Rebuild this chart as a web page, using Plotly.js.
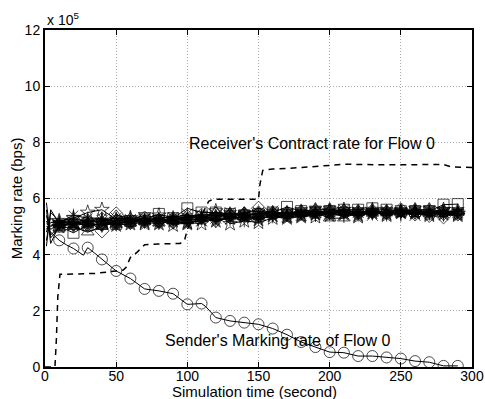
<!DOCTYPE html>
<html>
<head>
<meta charset="utf-8">
<script src="https://cdn.plot.ly/plotly-3.0.1.min.js"></script>
<style>html,body{margin:0;padding:0;background:#fff;}#chart{width:485px;height:399px;}</style>
</head>
<body>
<div id="chart"></div>
<script>
// Values in units of 1e5 bps
const tBundle = [1, 4, 10, 20, 30, 40, 50, 60, 70, 80, 90, 100, 110, 120, 130, 140, 150, 160, 170, 180, 190, 200, 210, 220, 230, 240, 250, 260, 270, 280, 290];
const flowSquare   = [4.8, 5.3, 5.0, 4.78, 5.05, 5.1, 5.1, 5.2, 5.25, 5.45, 5.3, 5.65, 5.5, 5.5, 5.45, 5.4, 5.45, 5.5, 5.7, 5.55, 5.5, 5.55, 5.6, 5.6, 5.65, 5.6, 5.55, 5.55, 5.55, 5.78, 5.8];
const flowTriUp    = [5.85, 4.6, 4.95, 5.0, 4.8, 5.0, 5.4, 5.3, 5.2, 5.3, 5.35, 5.2, 5.3, 5.5, 5.45, 5.5, 5.55, 5.45, 5.4, 5.45, 5.5, 5.3, 5.3, 5.5, 5.55, 5.5, 5.5, 5.55, 5.5, 5.55, 5.5];
const flowTriDown  = [4.3, 5.6, 5.1, 5.2, 5.0, 5.1, 5.2, 5.25, 5.4, 5.3, 5.1, 5.3, 5.45, 5.15, 5.35, 5.3, 5.35, 5.4, 5.5, 5.5, 5.45, 5.5, 5.5, 5.45, 5.5, 5.45, 5.5, 5.45, 5.5, 5.4, 5.5];
const flowDiamond  = [5.6, 4.4, 5.05, 5.1, 5.2, 4.85, 5.45, 5.15, 5.3, 5.2, 5.2, 5.35, 5.4, 5.45, 5.4, 5.45, 5.65, 5.45, 5.45, 5.5, 5.55, 5.5, 5.55, 5.5, 5.55, 5.5, 5.6, 5.45, 5.4, 5.35, 5.45];
const flowStar     = [4.5, 5.5, 5.2, 5.3, 5.5, 5.6, 5.25, 5.3, 5.1, 5.4, 5.05, 5.15, 5.1, 5.55, 5.1, 5.2, 5.15, 5.3, 5.35, 5.4, 5.35, 5.55, 5.6, 5.35, 5.6, 5.4, 5.55, 5.5, 5.4, 5.6, 5.45];
const flowHexagram = [5.2, 4.9, 5.1, 5.05, 5.1, 5.05, 5.1, 5.15, 5.2, 5.15, 5.25, 5.25, 5.3, 5.35, 5.45, 5.45, 5.45, 5.5, 5.5, 5.55, 5.6, 5.6, 5.55, 5.55, 5.5, 5.55, 5.55, 5.6, 5.6, 5.55, 5.55];
const flowAsterisk = [4.9, 5.15, 5.15, 5.4, 5.3, 5.3, 5.15, 5.2, 5.25, 5.3, 5.35, 5.3, 5.35, 5.4, 5.35, 5.4, 5.3, 5.35, 5.4, 5.45, 5.4, 5.45, 5.45, 5.5, 5.45, 5.5, 5.45, 5.5, 5.45, 5.5, 5.45];
const flowCross    = [5.0, 5.05, 5.05, 5.15, 5.05, 5.2, 5.3, 5.25, 5.3, 5.2, 5.3, 5.45, 5.2, 5.3, 5.5, 5.35, 5.5, 5.55, 5.35, 5.4, 5.5, 5.45, 5.6, 5.5, 5.4, 5.55, 5.5, 5.4, 5.55, 5.5, 5.5];
const flowStarFill = [5.4, 4.7, 5.0, 5.1, 5.15, 5.2, 5.05, 5.1, 5.15, 5.1, 5.2, 5.1, 5.25, 5.2, 5.3, 5.35, 5.25, 5.4, 5.3, 5.35, 5.45, 5.4, 5.45, 5.4, 5.5, 5.45, 5.5, 5.5, 5.45, 5.45, 5.4];
const flowPlus     = [5.1, 5.0, 5.15, 5.25, 5.2, 5.25, 5.2, 5.3, 5.2, 5.25, 5.2, 5.4, 5.35, 5.25, 5.3, 5.25, 5.4, 5.45, 5.45, 5.5, 5.45, 5.5, 5.4, 5.45, 5.55, 5.45, 5.45, 5.55, 5.5, 5.45, 5.55];

const tSender = [3, 10, 15, 20, 27, 30, 35, 40, 50, 60, 70, 80, 90, 100, 110, 113, 120, 130, 140, 150, 160, 170, 180, 190, 200, 210, 220, 230, 240, 250, 260, 270, 280, 290];
const senderRate = [4.85, 4.51, 4.35, 4.22, 3.98, 4.25, 4.05, 3.83, 3.42, 3.15, 2.78, 2.71, 2.61, 2.23, 2.26, 2.15, 1.76, 1.64, 1.58, 1.52, 1.37, 1.15, 0.89, 0.71, 0.53, 0.51, 0.39, 0.39, 0.34, 0.30, 0.21, 0.17, 0.04, 0.04];

const tReceiver = [0, 7, 8, 9, 10.5, 20, 35, 50, 55, 57, 60, 65, 70, 80, 95, 98, 100, 102, 110, 115, 118, 150, 151, 153, 160, 180, 200, 210, 240, 280, 285, 300];
const receiverRate = [0, 0, 1.0, 2.5, 3.3, 3.32, 3.33, 3.42, 3.45, 3.55, 3.9, 4.1, 4.35, 4.38, 4.4, 4.5, 4.9, 5.1, 5.4, 5.9, 5.97, 5.97, 6.5, 7.0, 7.05, 7.1, 7.18, 7.22, 7.2, 7.21, 7.13, 7.1];

const xTicks = [0, 50, 100, 150, 200, 250, 300];
const yTicks = [0, 2, 4, 6, 8, 10, 12];

function markSizes(t, s) { return t.map(v => (v % 10 === 0 ? s : 0)); }

const bundle = [
  [flowSquare, 'square-open'],
  [flowTriUp, 'triangle-up-open'],
  [flowTriDown, 'triangle-down-open'],
  [flowDiamond, 'diamond-open'],
  [flowStar, 'star-open'],
  [flowHexagram, 'hexagram'],
  [flowAsterisk, 'asterisk-open'],
  [flowCross, 'x-thin-open'],
  [flowStarFill, 'star'],
  [flowPlus, 'cross-thin-open']
];

const traces = bundle.map(([y, sym]) => ({
  x: tBundle, y: y, type: 'scatter', mode: 'lines+markers',
  line: {color: '#000', width: 1},
  marker: {symbol: sym, size: markSizes(tBundle, 11), color: '#000', line: {color: '#000', width: 1}},
  showlegend: false, hoverinfo: 'skip'
}));

traces.push({
  x: tSender, y: senderRate, type: 'scatter', mode: 'lines+markers',
  line: {color: '#000', width: 1},
  marker: {symbol: 'circle-open', size: markSizes(tSender, 11), color: '#000', line: {color: '#000', width: 1}},
  showlegend: false
});
traces.push({
  x: tReceiver, y: receiverRate, type: 'scatter', mode: 'lines',
  line: {color: '#000', width: 1.5, dash: '6px,5px'},
  showlegend: false
});

const fam = '"Liberation Sans", Arial, sans-serif';
const font = {family: fam, color: '#000', size: 14};

const layout = {
  width: 485, height: 399,
  margin: {l: 45, r: 13, t: 30, b: 32},
  paper_bgcolor: '#fff', plot_bgcolor: '#fff',
  font: font,
  xaxis: {
    range: [0, 300], tickvals: xTicks, ticktext: xTicks.map(String),
    showgrid: true, gridcolor: '#aaa', griddash: '1px,2px', gridwidth: 1,
    zeroline: false, showline: true, linecolor: '#000', linewidth: 2, mirror: 'ticks',
    ticks: 'inside', ticklen: 5, tickcolor: '#000', ticklabelstandoff: -5
  },
  yaxis: {
    range: [0, 12], tickvals: yTicks, ticktext: yTicks.map(String),
    showgrid: true, gridcolor: '#aaa', griddash: '1px,2px', gridwidth: 1,
    zeroline: false, showline: true, linecolor: '#000', linewidth: 2, mirror: 'ticks',
    ticks: 'inside', ticklen: 5, tickcolor: '#000'
  },
  annotations: [
    {xref: 'x', yref: 'y', x: 187.6, y: 7.97, text: "Receiver's Contract rate for Flow 0", showarrow: false, font: {family: fam, size: 16, color: '#000'}},
    {xref: 'x', yref: 'y', x: 163.4, y: 0.95, text: "Sender's Marking rate of Flow 0", showarrow: false, font: {family: fam, size: 16, color: '#000'}},
    {xref: 'paper', yref: 'paper', x: 0, y: 1, xanchor: 'left', yanchor: 'bottom', text: 'x 10<sup>5</sup>', showarrow: false, font: font},
    {xref: 'paper', yref: 'paper', x: 0.49, y: -0.074, xanchor: 'center', yanchor: 'middle', text: 'Simulation time (second)', showarrow: false, font: {family: fam, size: 15, color: '#000'}},
    {xref: 'paper', yref: 'paper', x: -0.066, y: 0.5, xanchor: 'center', yanchor: 'middle', textangle: -90, text: 'Marking rate (bps)', showarrow: false, font: {family: fam, size: 15, color: '#000'}}
  ]
};

Plotly.newPlot('chart', traces, layout, {displayModeBar: false, staticPlot: true});
</script>
</body>
</html>
